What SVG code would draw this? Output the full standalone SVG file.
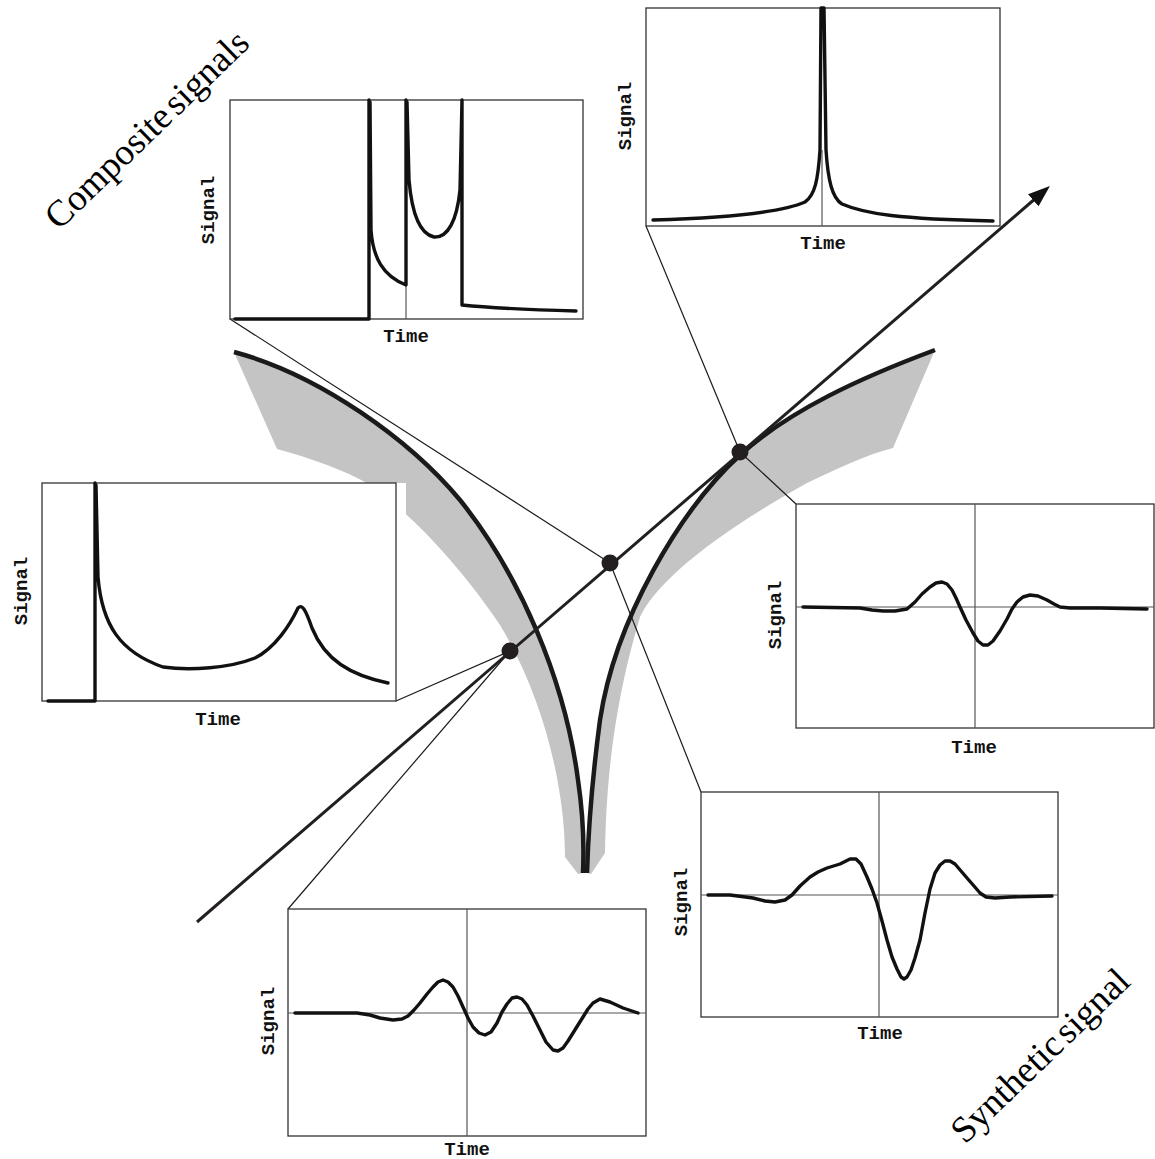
<svg xmlns="http://www.w3.org/2000/svg" width="1155" height="1159" viewBox="0 0 1155 1159">
<style>
.shade{fill:#c4c4c4;stroke:none}
.thick{fill:none;stroke:#1a1a1a;stroke-width:4.5;stroke-linecap:butt;stroke-linejoin:round}
.conn{fill:none;stroke:#1a1a1a;stroke-width:1.2}
.main{fill:none;stroke:#231f20;stroke-width:3}
.dot{fill:#231f20}
.box{fill:#fff;stroke:#333;stroke-width:1.3}
.axis{fill:none;stroke:#555;stroke-width:1.2}
.sig{fill:none;stroke:#111;stroke-width:3.4;stroke-linejoin:round;stroke-linecap:round}
.lab{font-family:"Liberation Mono","Courier New",monospace;font-weight:bold;font-size:19px;fill:#111}
.title{font-family:"Liberation Serif","Times New Roman",serif;font-size:37px;fill:#000}
</style>
<defs>
<marker id="arrow" markerUnits="userSpaceOnUse" viewBox="0 0 22 16" refX="2" refY="8" markerWidth="22" markerHeight="16" orient="auto">
<path d="M0,0 L22,8 L0,16 Z" fill="#111"/>
</marker>
</defs>

<g id="shading">
<path class="shade" d="M234,352 C320,375 410,440 460,500 C520,575 565,680 578,780 C584,820 584,850 583,873 L578,874 L565,857 C565,790 545,700 500,625 C470,580 420,520 370,485 C345,470 310,458 277,449 Z"/>
<path class="shade" d="M935,350 C860,378 790,410 740,455 C680,510 615,620 600,720 C592,780 588,840 587,873 L591,874 L605,853 C606,790 612,710 640,617 C655,585 705,540 807,483 C835,470 865,455 893,448 Z"/>
<rect x="38" y="483" width="368" height="222" fill="#fff"/>
</g>

<g id="curves">
<path class="thick" d="M234,352 C320,375 410,440 460,500 C520,575 565,680 578,780 C584,820 584,850 583,873"/>
<path class="thick" d="M935,350 C860,378 790,410 740,455 C680,510 615,620 600,720 C592,780 588,840 587,873"/>
</g>

<g id="connectors">
<line class="conn" x1="230" y1="319" x2="610" y2="563"/>
<line class="conn" x1="610" y1="563" x2="701" y2="792"/>
<line class="conn" x1="646" y1="226" x2="740" y2="452"/>
<line class="conn" x1="740" y1="452" x2="796" y2="504"/>
<line class="conn" x1="510" y1="651" x2="396" y2="701"/>
<line class="conn" x1="510" y1="651" x2="288" y2="909"/>
<line class="main" x1="197" y1="922" x2="1034.8" y2="199" marker-end="url(#arrow)"/>
</g>

<g id="dots">
<circle class="dot" cx="510" cy="651" r="8.5"/>
<circle class="dot" cx="610" cy="563" r="8.5"/>
<circle class="dot" cx="740" cy="452" r="8.5"/>
</g>

<g id="plot-composite-top">
<rect class="box" x="230" y="100" width="353" height="219"/>
<line class="axis" x1="406" y1="285" x2="406" y2="319"/>
<path class="sig" d="M235,319 H369 V100 M370,102 L371,230 C373,258 383,276 406,285 V100 M407,102 L409,180 C412,215 420,234 434,237 C448,238 457,220 460,190 L462,100 V305 C490,308 540,310 576,311"/>
<text class="lab" text-anchor="middle" transform="translate(214,210) rotate(-90)">Signal</text>
<text class="lab" x="406" y="342" text-anchor="middle">Time</text>
</g>

<g id="plot-peak-top-right">
<rect class="box" x="646" y="8" width="354" height="218"/>
<line class="axis" x1="822" y1="150" x2="822" y2="226"/>
<path class="sig" d="M653,220 C720,218 780,213 805,202 C815,195 818,180 820,150 L821,8 L824,8 L826,150 C828,180 832,198 842,204 C865,214 900,219 993,221"/>
<text class="lab" text-anchor="middle" transform="translate(631,116) rotate(-90)">Signal</text>
<text class="lab" x="823" y="249" text-anchor="middle">Time</text>
</g>

<g id="plot-left">
<rect class="box" x="42" y="483" width="354" height="218"/>
<path class="sig" d="M48,701 H95 V483 M96,485 L98,577 C102,625 120,652 163,667 C190,671 230,668 255,658 C275,648 290,625 298,608 C302,604 305,608 312,628 C325,660 350,675 388,683"/>
<text class="lab" text-anchor="middle" transform="translate(27,591) rotate(-90)">Signal</text>
<text class="lab" x="218" y="725" text-anchor="middle">Time</text>
</g>

<g id="plot-right">
<rect class="box" x="796" y="504" width="358" height="224"/>
<line class="axis" x1="975" y1="504" x2="975" y2="728"/>
<line class="axis" x1="796" y1="607" x2="1154" y2="607"/>
<polyline class="sig" points="803,607 860,608 872,610 883,611 895,611 907,609 915,602 922,594 930,587 936,583 942,582 947,584 952,590 956,598 960,607 966,620 973,633 978,641 983,645 988,645 993,641 1000,631 1007,619 1012,609 1017,602 1023,597 1030,595 1038,596 1047,600 1054,604 1060,607 1070,608 1100,608 1147,609"/>
<text class="lab" text-anchor="middle" transform="translate(781,615) rotate(-90)">Signal</text>
<text class="lab" x="974" y="753" text-anchor="middle">Time</text>
</g>

<g id="plot-bottom-right">
<rect class="box" x="701" y="792" width="357" height="225"/>
<line class="axis" x1="879" y1="792" x2="879" y2="1017"/>
<line class="axis" x1="701" y1="895" x2="1058" y2="895"/>
<polyline class="sig" points="708,895 730,895 753,898 765,901 775,902 785,900 792,895 800,886 810,877 818,872 827,868 840,864 850,859 856,859 861,864 867,877 872,889 877,903 882,921 887,940 892,957 897,969 901,977 904,979 907,977 911,970 915,958 920,940 925,913 930,889 935,873 940,865 945,861 950,861 955,864 961,871 967,878 974,886 980,893 986,897 995,898 1010,897 1052,896"/>
<text class="lab" text-anchor="middle" transform="translate(687,902) rotate(-90)">Signal</text>
<text class="lab" x="880" y="1039" text-anchor="middle">Time</text>
</g>

<g id="plot-bottom">
<rect class="box" x="288" y="909" width="358" height="227"/>
<line class="axis" x1="467" y1="909" x2="467" y2="1136"/>
<line class="axis" x1="288" y1="1013" x2="646" y2="1013"/>
<polyline class="sig" points="295,1013 357,1013 370,1015 380,1018 393,1020 402,1019 408,1016 414,1010 420,1003 427,994 433,987 438,982 443,980 448,982 453,987 458,996 463,1007 468,1018 473,1027 479,1033 485,1035 491,1032 497,1023 502,1012 507,1004 512,998 517,997 522,999 527,1005 533,1016 540,1030 546,1042 553,1050 558,1051 563,1048 568,1041 573,1033 578,1025 583,1017 588,1009 593,1003 600,999 610,1002 623,1008 638,1013"/>
<text class="lab" text-anchor="middle" transform="translate(274,1021) rotate(-90)">Signal</text>
<text class="lab" x="467" y="1155" text-anchor="middle">Time</text>
</g>

<g id="titles">
<text class="title" transform="translate(59,231) rotate(-44)" word-spacing="-5">Composite signals</text>
<text class="title" transform="translate(965,1145) rotate(-44)" word-spacing="-5">Synthetic signal</text>
</g>
</svg>
